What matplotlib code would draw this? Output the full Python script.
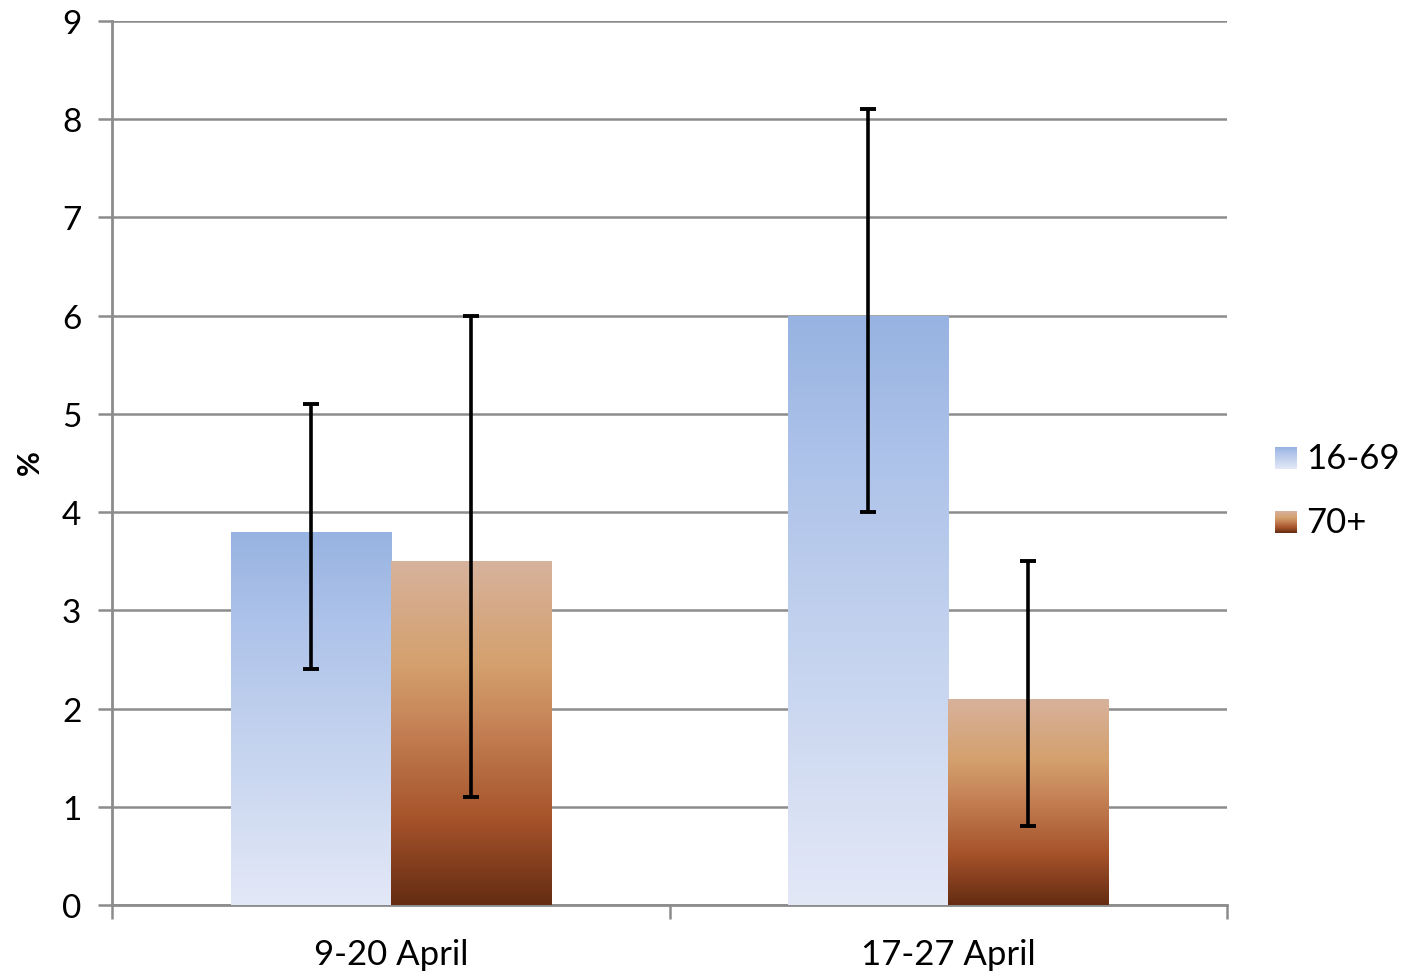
import numpy as np
import matplotlib
matplotlib.use("Agg")
import matplotlib.pyplot as plt
from matplotlib.colors import LinearSegmentedColormap

categories = ["9-20 April", "17-27 April"]
series_names = ["16-69", "70+"]
values_1669 = [3.8, 6.0]
lower_1669 = [2.4, 4.0]
upper_1669 = [5.1, 8.1]
values_70 = [3.5, 2.1]
lower_70 = [1.1, 0.8]
upper_70 = [6.0, 3.5]

plt.rcParams['font.family'] = ['Lato', 'DejaVu Sans']

blue_cmap = LinearSegmentedColormap.from_list(
    "b", [(0, "#E3E8F7"), (0.45, "#C3D2EE"), (0.75, "#AEC3EA"), (1, "#97B3E1")])
brown_cmap = LinearSegmentedColormap.from_list(
    "br", [(0, "#642C12"), (0.25, "#A6532A"), (0.55, "#C8875A"), (0.7, "#D4A06D"), (1, "#D7B29C")])

fig = plt.figure(figsize=(14.04, 9.79), dpi=100)
ax = fig.add_axes([112/1404, 1 - 906/979, (1227-112)/1404, (906-22)/979])

x = np.arange(len(categories))
w = 160/557

def grad_bars(xs, vals, cmap):
    bars = ax.bar(xs, vals, width=w, color='none', edgecolor='none', zorder=3)
    grad = np.linspace(0, 1, 256).reshape(-1, 1)
    for b in bars:
        x0, y0 = b.get_x(), b.get_y()
        bw, bh = b.get_width(), b.get_height()
        im = ax.imshow(grad, cmap=cmap, origin='lower', aspect='auto',
                       extent=[x0, x0 + bw, y0, y0 + bh], zorder=3, interpolation='bilinear')
        im.set_clip_path(b)
    return bars

grad_bars(x - w/2, values_1669, blue_cmap)
grad_bars(x + w/2, values_70, brown_cmap)

for xs, v, lo, hi in [(x - w/2, values_1669, lower_1669, upper_1669),
                      (x + w/2, values_70, lower_70, upper_70)]:
    v = np.array(v); lo = np.array(lo); hi = np.array(hi)
    ax.errorbar(xs, v, yerr=[v - lo, hi - v], fmt='none', ecolor='black',
                elinewidth=2.6, capsize=5.5, capthick=2.8, zorder=5)

ax.set_xlim(-0.5, 1.5)
ax.set_ylim(0, 9)
ax.set_yticks(range(0, 10))
ax.yaxis.grid(True, color='#8C8C8C', linewidth=1.8, zorder=1)
ax.set_axisbelow(True)
ax.set_xticks([-0.5, 0.5, 1.5])
ax.set_xticklabels([])
ax.set_xticks(x, minor=True)
ax.set_xticklabels(categories, minor=True)
ax.tick_params(axis='x', which='minor', length=0, pad=24, labelsize=25)
ax.tick_params(axis='x', which='major', length=10, width=1.8, color='#8C8C8C', direction='out')
ax.tick_params(axis='y', length=10, width=1.8, color='#8C8C8C', labelsize=24, pad=12)
for s in ['top', 'right']:
    ax.spines[s].set_visible(False)
for s in ['left', 'bottom']:
    ax.spines[s].set_color('#8C8C8C')
    ax.spines[s].set_linewidth(2)

fig.text(30/1404, 1 - 463/979, "%", rotation=90, fontsize=22, fontweight='bold',
         ha='center', va='center')

# legend
grad = np.linspace(0, 1, 64).reshape(-1, 1)
for (yc, cmap, name) in [(459, blue_cmap, series_names[0]), (523, brown_cmap, series_names[1])]:
    lax = fig.add_axes([1275/1404, 1 - (yc + 11)/979, 22/1404, 22/979])
    lax.imshow(grad, cmap=cmap, origin='lower', aspect='auto')
    lax.axis('off')
    fig.text(1306/1404, 1 - yc/979, name, fontsize=25, ha='left', va='center')

fig.savefig("out.png", dpi=100)
